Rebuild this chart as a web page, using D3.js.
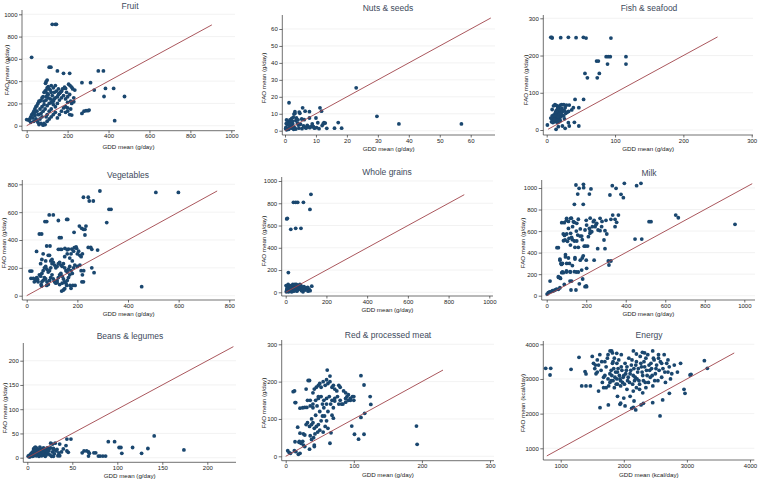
<!DOCTYPE html>
<html><head><meta charset="utf-8">
<script src="https://cdn.jsdelivr.net/npm/d3@7"></script>
<style>
body{margin:0;background:#fff;}
svg{display:block;font-family:Arial,"Liberation Sans",sans-serif;}
</style></head>
<body>
<svg id="chart" width="758" height="480"></svg>
<script>
// ---------------- DATA ----------------
const titles = ["Fruit","Nuts & seeds","Fish & seafood","Vegetables","Whole grains","Milk","Beans & legumes","Red & processed meat","Energy"];
const xLabels = ["GDD mean (g/day)","GDD mean (g/day)","GDD mean (g/day)","GDD mean (g/day)","GDD mean (g/day)","GDD mean (g/day)","GDD mean (g/day)","GDD mean (g/day)","GDD mean (kcal/day)"];
const yLabels = ["FAO mean (g/day)","FAO mean (g/day)","FAO mean (g/day)","FAO mean (g/day)","FAO mean (g/day)","FAO mean (g/day)","FAO mean (g/day)","FAO mean (g/day)","FAO mean (kcal/day)"];

const fruitTicks = [0,200,400,600,800,1000];
const nutsTicks = [0,10,20,30,40,50,60];
const fishTicks = [0,100,200,300];
const vegTicks = [0,200,400,600,800];
const grainTicks = [0,200,400,600,800,1000];
const milkTicks = [0,200,400,600,800,1000];
const beanTicks = [0,50,100,150,200];
const meatTicks = [0,100,200,300];
const energyTicks = [1000,2000,3000,4000];

// equality line ends [from, to]
const fruitLine=[0,905], nutsLine=[0,66.5], fishLine=[2,250], vegLine=[0,752], grainLine=[0,877],
      milkLine=[0,1040], beanLine=[0,229], meatLine=[0,231], energyLine=[780,3750];

const fruitPts = [[125,910],[140,910],[145,910],[24,614],[110,525],[118,525],[150,492],[180,470],[210,470],[350,492],[375,492],[100,410],[95,395],[92,380],[205,372],[212,360],[220,345],[270,386],[312,386],[330,320],[385,335],[425,335],[378,262],[478,262],[430,45],[270,110],[280,130],[290,135],[300,135],[305,140],[230,215],[235,320],[225,330],[220,200],[215,220],[215,150],[210,100],[220,95],[200,130],[190,120],[195,300],[190,335],[185,345],[175,330],[170,310],[165,300],[160,290],[155,280],[150,260],[140,250],[135,240],[130,220],[125,270],[120,300],[115,320],[110,330],[105,350],[100,340],[95,320],[90,310],[85,300],[80,260],[75,250],[70,230],[65,220],[60,220],[55,200],[50,180],[45,170],[40,150],[35,130],[30,110],[25,100],[20,80],[15,60],[10,50],[0,55],[20,30],[35,40],[45,60],[55,30],[60,10],[70,20],[80,5],[85,20],[90,10],[100,40],[110,60],[120,80],[130,100],[140,120],[150,70],[160,100],[170,130],[180,160],[190,170],[200,160],[60,100],[70,110],[80,130],[90,150],[100,180],[110,200],[120,210],[130,190],[140,170],[150,200],[160,230],[170,250],[180,270],[200,260],[210,280],[65,150],[75,170],[85,190],[95,230],[105,250],[115,240],[125,230],[135,300],[145,310],[155,330],[55,100],[40,90],[30,70],[50,130],[100,100],[110,130],[120,150],[95,80],[75,80],[65,60],[50,50],[105,280],[95,260],[85,220],[120,360],[130,340],[140,360],[100,290],[40,120],[200,210],[190,240],[230,250]];

const nutsPts = [[23,25.3],[29.7,8.5],[36.8,4],[57,4],[1.3,16.5],[17.2,4.8],[18.3,1.5],[16,1.5],[13.5,1.4],[12.6,4.7],[12.3,4],[11.3,13.5],[11.8,11.5],[10,7.5],[7.9,11.2],[7.9,7.5],[5.7,13.5],[6.5,11.5],[4.6,11],[4.8,10.3],[3.2,11.2],[3.2,10.2],[5.4,6.9],[9.2,2.4],[10.2,1.8],[8.5,2.4],[7.5,2.4],[6.5,2],[6,2.8],[4.3,3.3],[1.1,5.3],[0.5,6.3],[1.6,6.3],[2.2,7.3],[2.7,7.9],[3.5,6],[4,4.5],[2.5,4],[2,3],[1.5,2],[1,1],[0.5,0.5],[0.3,2],[0.8,3.5],[3,2],[3.5,1],[2.8,0.8],[4.5,1.5],[5.5,1.2],[6.8,1.5],[7.2,3.2],[8,1.8],[9.5,1.5],[11,1.2],[12,3],[1.8,5],[2.4,5.5],[3.7,7.5],[4.2,6.4],[0.4,4.2],[1.2,0.8],[2.1,1.5],[5,3.8],[8.8,4],[10.6,4.7],[13,4.5],[2.9,9.8],[1.5,3.8],[0.2,1.2],[6.2,6.5]];

const fishPts = [[6,249],[7.5,249],[8,247],[20.5,248],[31.7,249],[43,248],[53.7,249],[57.6,247],[94,247],[87,197],[90,197],[93,197],[116,197],[73,185],[75.6,185],[89,177],[116,177],[56,152],[77,152],[59.5,140],[74,140],[54,82],[41.5,82],[47,60],[39,60],[33,67],[29,67],[36.6,54],[40.5,20.6],[31.7,19.7],[47,10.7],[33,10.7],[27,4.5],[13.7,1.8],[23,10.7],[17,9],[1,13.4],[8,55],[10,65],[12,68],[14,66],[16,64],[18,62],[20,67],[22,68],[25,68],[27,60],[24,52],[20,50],[18,48],[15,45],[12,42],[10,40],[8,38],[9,30],[11,32],[13,35],[15,30],[17,28],[19,33],[21,36],[23,40],[25,38],[28,45],[30,48],[32,50],[14,25],[12,22],[10,24],[8,28],[6,32],[7,22],[9,20],[16,20],[18,22],[20,25],[26,30],[13,40],[11,37],[15,38],[17,36],[19,42],[21,44],[23,50],[26,52],[18,55],[22,58],[14,52],[16,58],[13,48],[11,28]];

const vegPts = [[289,752],[510,742],[599,742],[224,707],[243,707],[247,680],[263,680],[325,620],[333,620],[316,525],[454,65],[72,532],[79,532],[89,580],[105,580],[125,540],[50,443],[59,443],[129,417],[136,417],[158,548],[162,548],[208,500],[217,484],[224,477],[230,477],[234,500],[230,436],[187,455],[243,347],[253,347],[257,333],[280,328],[39,318],[79,357],[92,357],[125,333],[132,333],[138,333],[151,340],[165,335],[178,335],[188,345],[197,340],[175,300],[185,320],[200,300],[210,290],[215,280],[220,300],[205,320],[195,350],[160,330],[257,200],[266,165],[218,100],[224,100],[158,74],[171,74],[182,74],[191,74],[138,33],[145,41],[150,50],[175,53],[79,74],[85,81],[57,79],[59,69],[13,177],[20,177],[17,125],[26,125],[37,125],[43,117],[50,150],[55,140],[60,160],[65,180],[70,200],[75,210],[80,190],[85,170],[90,180],[95,200],[100,230],[105,240],[110,220],[115,200],[120,210],[125,230],[130,240],[135,220],[140,210],[145,230],[150,200],[155,180],[160,170],[165,190],[170,210],[175,180],[180,160],[185,200],[190,220],[200,210],[210,220],[215,180],[220,150],[225,180],[100,150],[105,120],[110,100],[115,90],[120,110],[125,130],[130,150],[135,160],[140,140],[145,120],[150,100],[155,90],[160,110],[165,130],[170,150],[60,100],[65,110],[70,130],[75,120],[80,100],[90,110],[95,130],[45,100],[40,130],[35,110],[30,100],[85,290],[90,290],[95,250],[100,260],[150,280],[160,300],[170,270],[180,250],[75,250],[60,260],[55,230],[65,300],[140,90],[130,80],[120,95]];

const grainPts = [[124,880],[38,808],[49,808],[59,808],[87,808],[5,659],[8,665],[119,745],[25,566],[49,575],[75,575],[13,177],[2,60],[5,20],[8,40],[10,10],[12,70],[15,50],[18,30],[20,15],[22,60],[25,45],[28,25],[30,5],[32,55],[35,70],[38,40],[40,65],[42,20],[45,50],[48,60],[50,35],[52,70],[55,10],[58,50],[60,65],[62,25],[65,40],[68,55],[70,70],[72,30],[75,60],[78,15],[80,45],[82,25],[85,5],[88,35],[95,20],[100,40],[105,30],[110,10],[115,25],[120,15],[128,55],[3,5],[6,30],[14,5],[25,8],[40,10],[45,70],[90,50],[108,45]];

const milkPts = [[953,663],[477,1043],[393,1043],[455,1022],[332,1022],[351,997],[148,1028],[186,1034],[164,997],[187,1003],[224,991],[157,944],[216,944],[320,935],[376,941],[388,910],[140,848],[185,848],[653,749],[666,724],[518,687],[528,687],[447,526],[481,526],[290,517],[258,437],[295,437],[312,322],[325,322],[315,285],[143,353],[143,340],[101,300],[177,238],[140,223],[202,254],[89,105],[123,53],[148,53],[194,84],[202,84],[182,155],[67,74],[17,136],[2,15],[8,28],[15,35],[25,40],[35,45],[42,53],[59,59],[59,446],[52,446],[67,340],[67,330],[72,300],[59,176],[67,167],[76,214],[84,214],[118,223],[118,136],[126,136],[76,678],[89,678],[84,573],[101,573],[93,517],[113,532],[126,542],[121,579],[110,625],[101,718],[121,718],[135,687],[131,641],[152,672],[157,563],[169,554],[177,554],[194,610],[202,656],[216,625],[219,579],[228,594],[231,641],[245,641],[253,672],[270,718],[278,641],[295,604],[304,573],[207,461],[197,461],[211,548],[236,687],[325,709],[346,709],[354,681],[346,641],[334,749],[363,749],[270,604],[140,508],[152,508],[143,449],[160,449],[100,230],[110,350],[95,360],[85,510],[105,505],[120,470],[130,520],[150,600],[170,620],[180,520],[90,560],[100,700],[110,690],[125,720],[140,680],[160,710],[200,700],[220,720],[240,700],[260,610],[280,690],[300,700],[60,170],[70,160],[80,220],[100,220],[130,280],[150,220],[170,330],[180,350],[190,460],[240,330],[250,660],[200,330],[220,600],[95,380],[115,300],[160,220],[185,370],[75,290],[80,300],[120,220],[50,60],[30,48],[200,90],[165,110]];

const beanPts = [[141,45],[174,16],[134,19],[117,21],[127,9],[102,21],[104,21],[105,9],[97,33],[90,33],[87,3.4],[84,3.4],[81,3.4],[79,3.4],[76,10],[74,10],[69,9],[68,3.4],[68,12],[66,14],[63,14],[61,10],[48.5,38.5],[44,38.5],[43,25],[45.5,11],[44,14],[36,28],[31,30],[28,28],[26,30],[33,17],[36,4],[29,19],[30,16],[27,3],[29,3],[1,3],[2,5],[3,2],[4,8],[5,4],[6,12],[7,18],[8,20],[9,22],[10,15],[11,10],[12,6],[13,3],[14,12],[15,18],[16,8],[17,14],[18,20],[19,5],[20,10],[21,16],[22,12],[23,8],[24,19],[25,6],[6,6],[8,9],[10,4],[12,16],[14,22],[16,4],[18,13],[20,3],[22,20],[24,14],[5,10],[7,4],[9,12],[11,18],[13,8],[15,6],[17,10],[19,16],[21,6],[23,18],[3,4],[4,6],[6,3],[8,15],[10,20],[12,11],[14,7],[16,16],[2,2],[9,7],[26,20],[28,12],[30,8],[32,14],[34,4],[35,10],[38,12],[40,18]];

const meatPts = [[192,81],[193,32],[110.5,216],[115,191],[124,160],[125,139],[116,115],[110.5,104],[115,59],[107,46],[101,59],[97,81],[61,231],[65,215],[33,203],[35,203],[11,173],[13,175],[13.7,144],[14.7,144],[21,129],[25,130],[28,131],[31,131],[17.6,78],[21,62],[26,60],[28,57],[13.7,39],[19.6,37.5],[22.5,35],[26,30],[12.7,15],[15,12.5],[18.6,5.4],[21,8],[3,15],[5,10],[7,8],[28,26],[35,19],[42,30],[42,26],[65,35],[66.5,63],[54,108],[57,108],[70,102],[72,148],[35,80],[38,85],[40,90],[42,75],[45,80],[48,85],[50,70],[52,95],[55,65],[58,80],[60,95],[62,75],[36,150],[40,170],[42,180],[45,185],[48,190],[50,195],[52,185],[55,200],[58,190],[60,205],[62,195],[65,200],[68,185],[70,190],[72,180],[75,175],[78,190],[80,185],[40,140],[44,150],[48,155],[52,160],[56,150],[60,155],[64,160],[68,150],[72,155],[76,160],[80,150],[84,140],[88,155],[90,160],[92,150],[95,155],[98,160],[100,150],[85,175],[88,170],[82,140],[78,140],[70,130],[66,140],[60,140],[54,140],[46,135],[40,130],[36,135],[48,160],[30,180],[32,150],[38,100],[44,110],[50,120],[56,130],[62,120],[68,110],[43,60],[47,65],[41,50],[38,45],[36,55],[30,85],[32,90],[25,40],[20,40],[95,150],[92,165],[100,160],[88,145]];

const energyPts = [[762,3308],[842,3308],[831,3115],[1164,3279],[1290,3625],[1333,2798],[1401,2798],[1386,3212],[1401,3144],[1470,2798],[3277,3529],[3324,3308],[3050,3115],[3065,3134],[2970,2587],[2954,2702],[2722,2587],[1623,2173],[1755,2250],[1940,2269],[2125,2154],[2152,2183],[2162,2365],[2189,2106],[2273,2250],[2310,2298],[2458,2317],[2574,1933],[2616,2394],[2020,2221],[1782,3808],[1808,3808],[1888,3740],[2152,3808],[2295,3769],[2458,3808],[1500,3650],[1520,3450],[1540,3300],[1560,3150],[1580,3550],[1600,3400],[1620,3700],[1640,3250],[1660,2900],[1680,3050],[1700,3500],[1720,3350],[1740,3600],[1760,2800],[1780,3150],[1800,2950],[1820,3450],[1840,3300],[1860,3050],[1880,2850],[1900,3200],[1920,3550],[1940,3000],[1960,3350],[1980,2900],[2000,3100],[2020,3450],[2040,3250],[2060,2950],[2080,3600],[2100,3150],[2120,3400],[2140,2850],[2160,3300],[2180,3050],[2200,3500],[2220,3200],[2240,2950],[2260,3650],[2280,3350],[2300,3100],[2320,3500],[2340,2900],[2360,3250],[2380,3700],[2400,3400],[2420,3050],[2440,3300],[2460,2800],[2480,3550],[2500,3150],[2520,3400],[2540,2950],[2560,3250],[2580,3500],[2600,3050],[2620,3300],[2640,3700],[2660,2900],[2680,3450],[2700,3200],[2720,3350],[2740,3000],[2760,3150],[2800,3400],[2850,3200],[2900,3450],[1550,3400],[1580,3200],[1650,3500],[1700,3100],[1720,2750],[1750,3000],[1780,2900],[1800,3250],[1810,3100],[1830,2950],[1850,3600],[1870,3200],[1890,3000],[1900,2850],[1910,3300],[1930,3100],[1950,2950],[1970,3250],[1990,3050],[2010,2850],[2030,3150],[2050,3350],[2070,3050],[2090,2900],[2110,3250],[2130,3550],[2150,3100],[2170,2950],[2190,3400],[2210,3000],[2230,3300],[2250,2850],[2270,3450],[2290,3200],[2310,2950],[2330,3350],[2350,3600],[2370,3100],[2390,2900],[2410,3250],[2430,3450],[2450,3100],[2470,3600],[2490,2950],[2510,3300],[2550,3600],[2600,3450],[2650,3200],[2700,3550],[1850,2750],[1950,2800],[2050,2700],[2150,2650],[2250,2700],[2350,2750],[1680,2750],[1600,2650],[1900,2500],[2000,2450],[1950,2300],[2100,2500],[2300,2600],[2200,2750],[1750,3700],[1820,3750],[1960,3700],[2200,3720],[2330,3750],[2550,3700],[1830,3500],[1890,3450]];

const allPts = [fruitPts,nutsPts,fishPts,vegPts,grainPts,milkPts,beanPts,meatPts,energyPts];
const allTicks = [fruitTicks,nutsTicks,fishTicks,vegTicks,grainTicks,milkTicks,beanTicks,meatTicks,energyTicks];
const allLines = [fruitLine,nutsLine,fishLine,vegLine,grainLine,milkLine,beanLine,meatLine,energyLine];

// ---------------- LAYOUT (pixels) ----------------
const layout = [
 {xr:[26.7,231.3], yr:[125.7,14.3], ax:22,   ab:130.7, xe:235,   yt:10,  tb:9,    tx:130, yl:6,   ylc:70,  xlb:149},
 {xr:[285,470.7],  yr:[130.7,29],   ax:282.3,ab:135,   xe:495,   yt:15,  tb:10.5, tx:388, yl:263.5, ylc:78, xlb:151},
 {xr:[546.7,751.7],yr:[130,18.3],   ax:543.3,ab:135,   xe:753,   yt:15,  tb:11,   tx:649, yl:525, ylc:80,  xlb:151},
 {xr:[26.7,229.3], yr:[295.7,184.3],ax:22.3, ab:300,   xe:235,   yt:180, tb:177.5,tx:128, yl:3.8, ylc:243, xlb:316},
 {xr:[285.7,489.3],yr:[292.3,181],  ax:281.7,ab:296,   xe:493,   yt:177, tb:174.5,tx:387, yl:263, ylc:241, xlb:312},
 {xr:[546.7,744.3],yr:[295.7,188],  ax:541.7,ab:300,   xe:755,   yt:180, tb:176,  tx:649, yl:522.5, ylc:243, xlb:316},
 {xr:[27.3,207.3], yr:[457.7,360.7],ax:23.3, ab:462.3, xe:236,   yt:343, tb:339,  tx:130, yl:4.5, ylc:408, xlb:477.5},
 {xr:[285.7,490],  yr:[456.3,344.3],ax:281.7,ab:460.7, xe:494,   yt:340, tb:337.5,tx:388, yl:263, ylc:403, xlb:477},
 {xr:[560.7,750],  yr:[448.3,344.3],ax:543.3,ab:460,   xe:754.3, yt:341, tb:337.5,tx:649, yl:522, ylc:403, xlb:476.5}
];

const markColor = "#1a476f", lineColor = "#a0444b", axisColor = "#333", textColor = "#222", titleColor = "#3e4a5c";

const svg = d3.select("#chart");

titles.forEach((t,i)=>{
  const L = layout[i], ticks = allTicks[i], pts = allPts[i], ln = allLines[i];
  const t0 = ticks[0], t1 = ticks[ticks.length-1];
  const x = d3.scaleLinear().domain([t0,t1]).range(L.xr);
  const y = d3.scaleLinear().domain([t0,t1]).range(L.yr);
  const g = svg.append("g");

  g.selectAll(".grid").data(ticks).enter().append("line")
    .attr("x1",L.ax).attr("x2",L.xe).attr("y1",d=>y(d)).attr("y2",d=>y(d))
    .attr("stroke","#ececec").attr("stroke-width",0.7);

  const xAxis = d3.axisBottom(x).tickValues(ticks).tickSize(2.5).tickPadding(1).tickFormat(d3.format("d"));
  const yAxis = d3.axisLeft(y).tickValues(ticks).tickSize(3).tickPadding(1.5).tickFormat(d3.format("d"));
  const gx = g.append("g").attr("transform",`translate(0,${L.ab})`).call(xAxis);
  const gy = g.append("g").attr("transform",`translate(${L.ax},0)`).call(yAxis);
  [gx,gy].forEach(a=>{
    a.select(".domain").remove();
    a.selectAll("line").attr("stroke",axisColor).attr("stroke-width",0.7);
    a.selectAll("text").attr("fill",textColor).style("font-size","6px").style("font-family","Arial, 'Liberation Sans', sans-serif");
  });
  g.append("line").attr("x1",L.ax).attr("x2",L.xe).attr("y1",L.ab).attr("y2",L.ab).attr("stroke",axisColor).attr("stroke-width",0.7);
  g.append("line").attr("x1",L.ax).attr("x2",L.ax).attr("y1",L.yt).attr("y2",L.ab).attr("stroke",axisColor).attr("stroke-width",0.7);

  g.selectAll(".pt").data(pts).enter().append("circle")
    .attr("cx",d=>x(d[0])).attr("cy",d=>y(d[1])).attr("r",1.9).attr("fill",markColor);

  g.append("line").attr("x1",x(ln[0])).attr("y1",y(ln[0])).attr("x2",x(ln[1])).attr("y2",y(ln[1]))
    .attr("stroke",lineColor).attr("stroke-width",0.9);

  g.append("text").attr("x",L.tx).attr("y",L.tb).attr("text-anchor","middle")
    .attr("fill",titleColor).style("font-size","8.5px").text(t);
  g.append("text").attr("x",(L.ax+L.xe)/2).attr("y",L.xlb).attr("text-anchor","middle")
    .attr("fill",textColor).style("font-size","6.2px").text(xLabels[i]);
  g.append("text").attr("transform",`translate(${L.yl},${L.ylc}) rotate(-90)`).attr("text-anchor","middle")
    .attr("dominant-baseline","central").attr("fill",textColor).style("font-size","6.2px").text(yLabels[i]);
});
</script>
</body></html>
